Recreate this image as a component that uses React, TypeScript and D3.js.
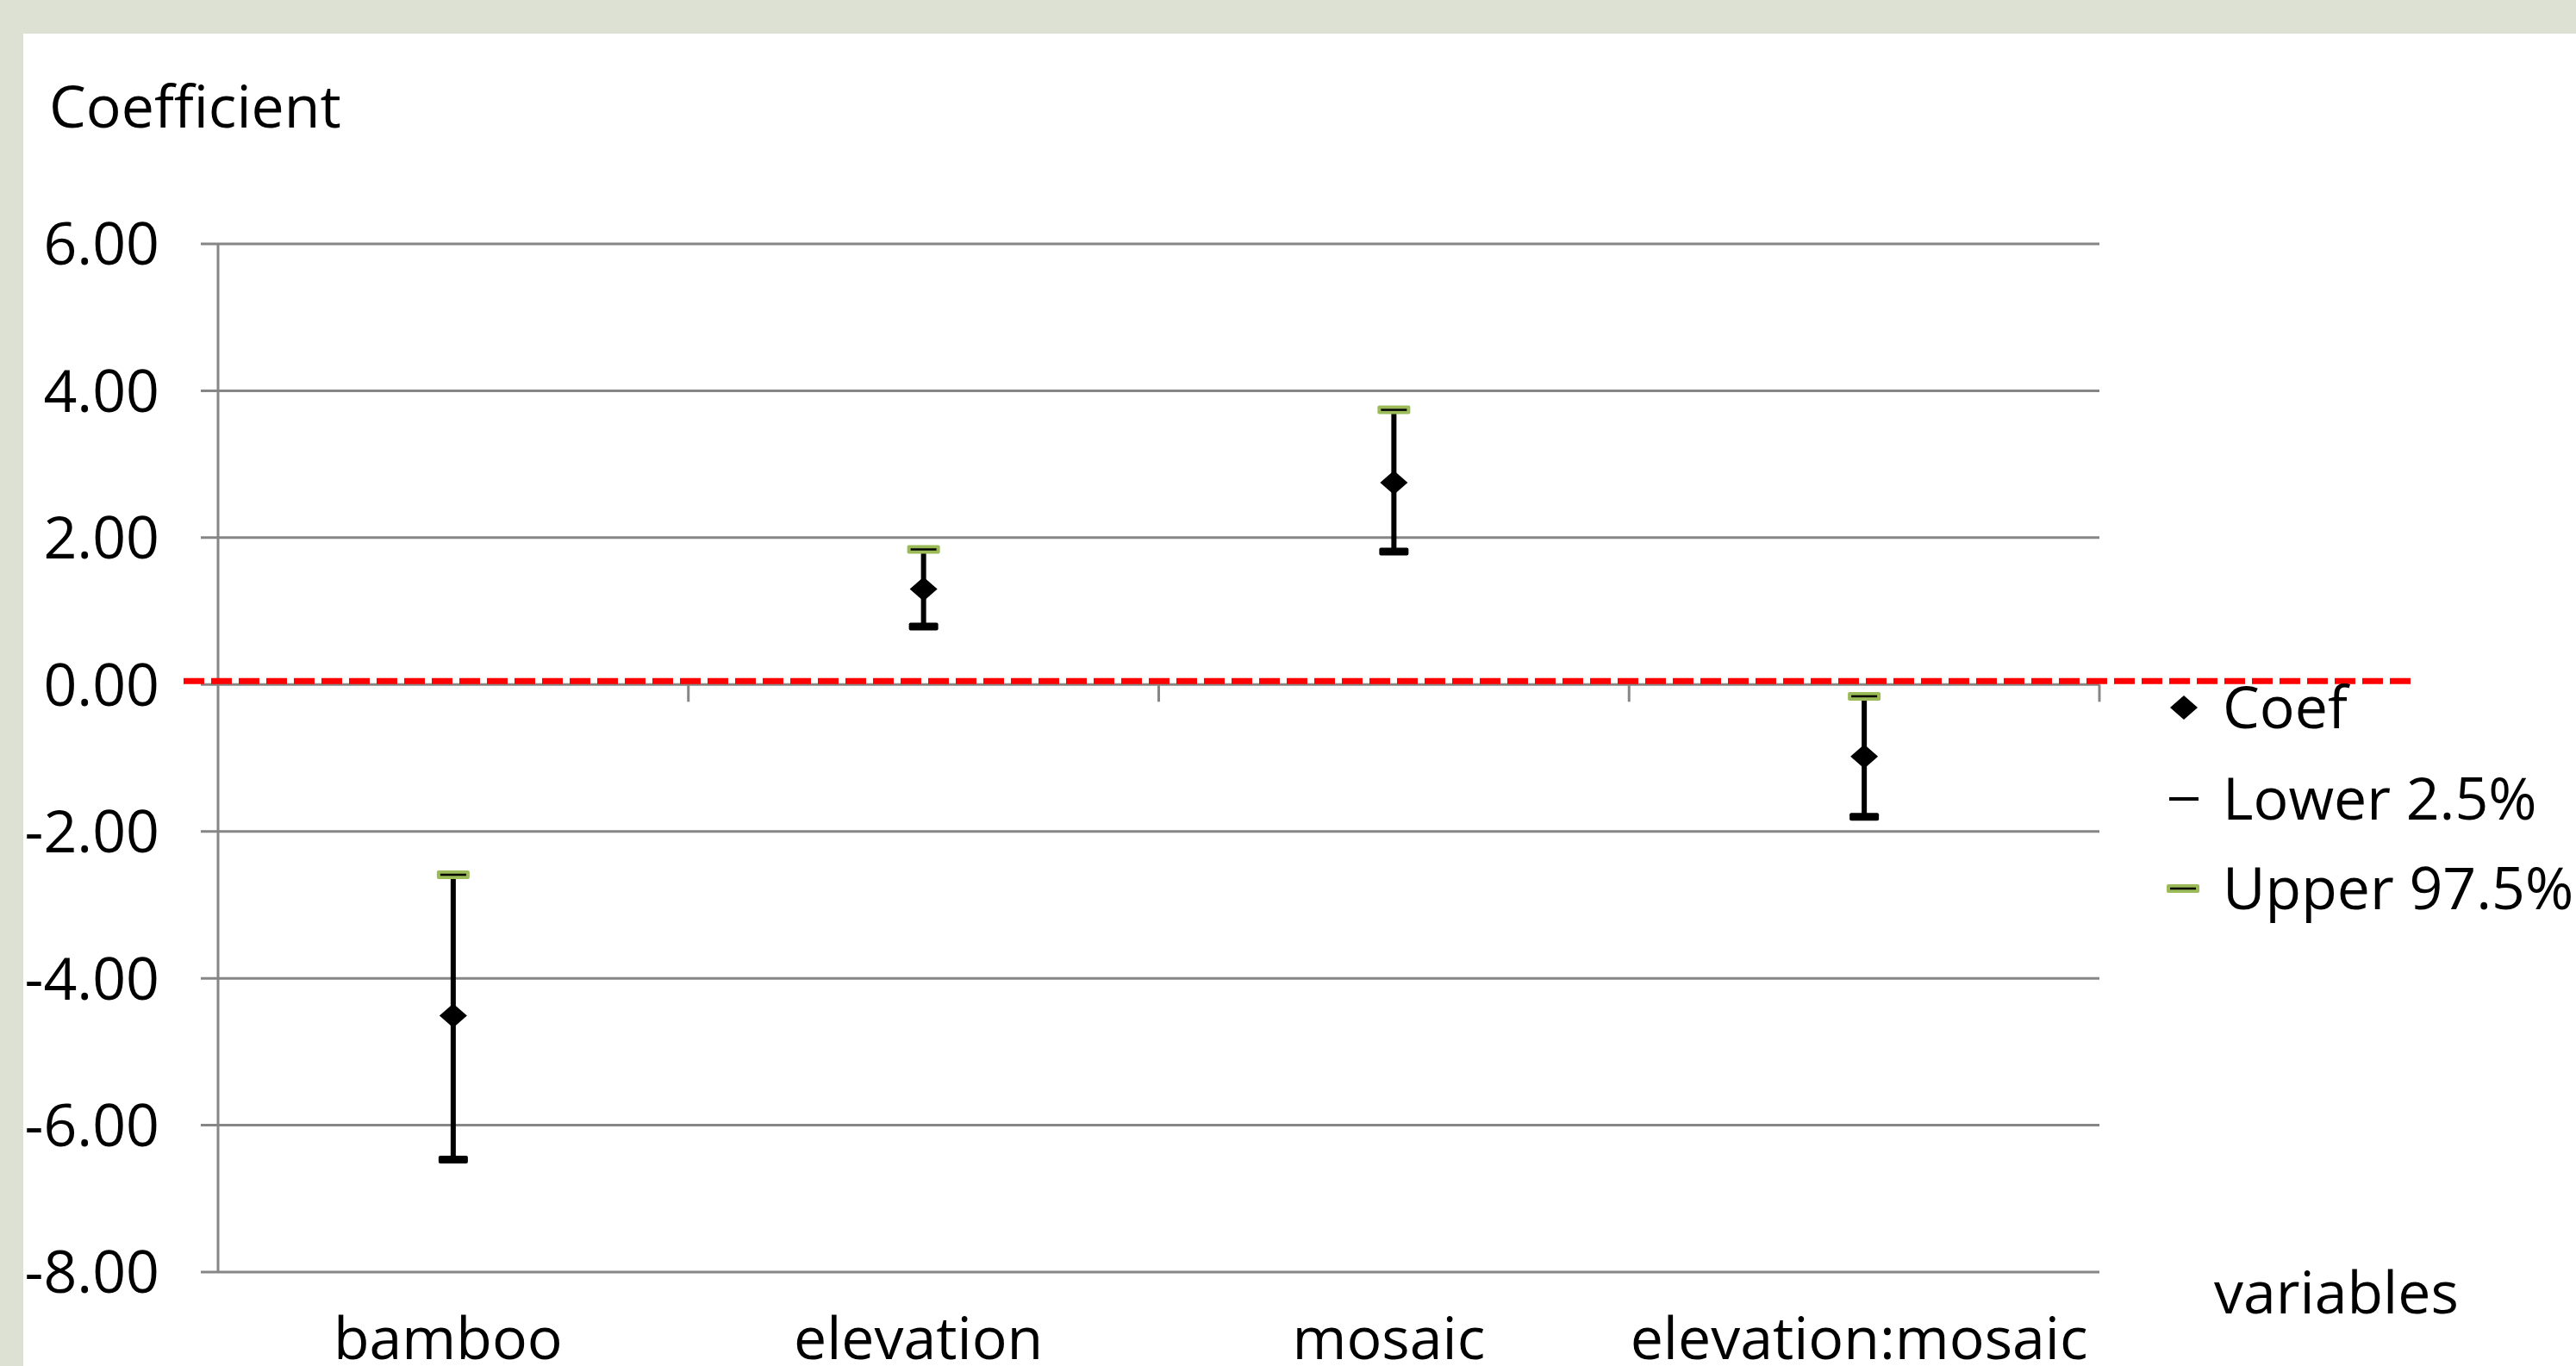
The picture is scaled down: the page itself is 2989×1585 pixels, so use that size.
import React, { useRef, useEffect } from "react";
import * as d3 from "d3";

const categories = ["bamboo", "elevation", "mosaic", "elevation:mosaic"];
const coef = [-4.51, 1.3, 2.75, -0.98];
const lower = [-6.47, 0.79, 1.81, -1.8];
const upper = [-2.59, 1.84, 3.74, -0.16];
const yTicks = [6, 4, 2, 0, -2, -4, -6, -8];
const legendLabels = ["Coef", "Lower 2.5%", "Upper 97.5%"];

const W = 2989;
const H = 1585;
const FONT = "'Open Sans', sans-serif";
const FS = "68px";

const App = () => {
  const svgRef = useRef<SVGSVGElement>(null);

  useEffect(() => {
    const svg = d3.select(svgRef.current);
    svg.selectAll("*").remove();

    const plot = { left: 253, right: 2436, top: 283, bottom: 1476 };
    const grid = "#868686";

    const y = d3.scaleLinear().domain([-8, 6]).range([plot.bottom, plot.top]);
    const x = d3
      .scaleBand()
      .domain(categories)
      .range([plot.left, plot.right])
      .padding(0);
    const cx = (c: string) => (x(c) as number) + x.bandwidth() / 2;

    // background + white panel
    svg.append("rect").attr("width", W).attr("height", H).attr("fill", "#dce1d3");
    svg
      .append("rect")
      .attr("x", 27)
      .attr("y", 39)
      .attr("width", W - 27)
      .attr("height", H - 39)
      .attr("fill", "#ffffff");

    // gridlines + y ticks
    svg
      .append("g")
      .selectAll("line")
      .data(yTicks)
      .enter()
      .append("line")
      .attr("x1", plot.left - 20)
      .attr("x2", plot.right)
      .attr("y1", (d) => y(d))
      .attr("y2", (d) => y(d))
      .attr("stroke", grid)
      .attr("stroke-width", 3);

    svg
      .append("g")
      .selectAll("text")
      .data(yTicks)
      .enter()
      .append("text")
      .attr("x", 185)
      .attr("y", (d) => y(d))
      .attr("dy", "0.36em")
      .attr("text-anchor", "end")
      .style("font-family", FONT)
      .style("font-size", FS)
      .attr("fill", "#000")
      .text((d) => d.toFixed(2));

    // y axis line
    svg
      .append("line")
      .attr("x1", plot.left)
      .attr("x2", plot.left)
      .attr("y1", y(6))
      .attr("y2", y(-8))
      .attr("stroke", grid)
      .attr("stroke-width", 3);

    // x axis ticks at the zero line (category boundaries)
    svg
      .append("g")
      .selectAll("line")
      .data(categories)
      .enter()
      .append("line")
      .attr("x1", (d) => (x(d) as number) + x.bandwidth())
      .attr("x2", (d) => (x(d) as number) + x.bandwidth())
      .attr("y1", y(0))
      .attr("y2", y(0) + 20)
      .attr("stroke", grid)
      .attr("stroke-width", 3);

    // category labels
    svg
      .append("g")
      .selectAll("text")
      .data(categories)
      .enter()
      .append("text")
      .attr("x", (d) => cx(d) - 6)
      .attr("y", 1577)
      .attr("text-anchor", "middle")
      .style("font-family", FONT)
      .style("font-size", FS)
      .attr("fill", "#000")
      .text((d) => d);

    // axis titles
    svg
      .append("text")
      .attr("x", 57)
      .attr("y", 148)
      .style("font-family", FONT)
      .style("font-size", FS)
      .text("Coefficient");
    svg
      .append("text")
      .attr("x", 2569)
      .attr("y", 1524)
      .style("font-family", FONT)
      .style("font-size", FS)
      .text("variables");

    // red dashed reference line at zero
    svg
      .append("line")
      .attr("x1", 213)
      .attr("x2", 2798)
      .attr("y1", y(0) - 4)
      .attr("y2", y(0) - 4)
      .attr("stroke", "#ff0000")
      .attr("stroke-width", 7)
      .attr("stroke-dasharray", "24 8");

    // error bars
    const bars = svg
      .append("g")
      .selectAll("g")
      .data(categories.map((c, i) => ({ c, coef: coef[i], lo: lower[i], hi: upper[i] })))
      .enter()
      .append("g")
      .attr("transform", (d) => `translate(${cx(d.c)},0)`);

    bars
      .append("line")
      .attr("y1", (d) => y(d.hi))
      .attr("y2", (d) => y(d.lo))
      .attr("stroke", "#000")
      .attr("stroke-width", 6);

    bars
      .append("rect")
      .attr("x", -17)
      .attr("y", (d) => y(d.lo) - 4.5)
      .attr("width", 34)
      .attr("height", 9)
      .attr("rx", 2)
      .attr("fill", "#000");

    bars
      .append("rect")
      .attr("x", -19)
      .attr("y", (d) => y(d.hi) - 5)
      .attr("width", 38)
      .attr("height", 10)
      .attr("rx", 2)
      .attr("fill", "#9bbb59");
    bars
      .append("line")
      .attr("x1", -15)
      .attr("x2", 15)
      .attr("y1", (d) => y(d.hi))
      .attr("y2", (d) => y(d.hi))
      .attr("stroke", "#000")
      .attr("stroke-width", 2.5);

    const diamond = "M0,-14L16,0L0,14L-16,0Z";
    bars
      .append("path")
      .attr("d", diamond)
      .attr("transform", (d) => `translate(0,${y(d.coef)})`)
      .attr("fill", "#000");

    // legend
    const legY = [821, 927, 1031];
    const leg = svg.append("g");
    leg
      .append("path")
      .attr("d", diamond)
      .attr("transform", `translate(2534,${legY[0]})`)
      .attr("fill", "#000");
    leg
      .append("line")
      .attr("x1", 2517)
      .attr("x2", 2551)
      .attr("y1", legY[1])
      .attr("y2", legY[1])
      .attr("stroke", "#000")
      .attr("stroke-width", 4);
    leg
      .append("rect")
      .attr("x", 2514)
      .attr("y", legY[2] - 5)
      .attr("width", 38)
      .attr("height", 10)
      .attr("rx", 2)
      .attr("fill", "#9bbb59");
    leg
      .append("line")
      .attr("x1", 2518)
      .attr("x2", 2548)
      .attr("y1", legY[2])
      .attr("y2", legY[2])
      .attr("stroke", "#000")
      .attr("stroke-width", 2.5);
    leg
      .selectAll("text")
      .data(legendLabels)
      .enter()
      .append("text")
      .attr("x", 2579)
      .attr("y", (d, i) => legY[i])
      .attr("dy", "0.36em")
      .style("font-family", FONT)
      .style("font-size", FS)
      .text((d) => d);
  }, []);

  return (
    <svg
      ref={svgRef}
      width={W}
      height={H}
      style={{ position: "absolute", left: 0, top: 0, display: "block" }}
    ></svg>
  );
};

export default App;
